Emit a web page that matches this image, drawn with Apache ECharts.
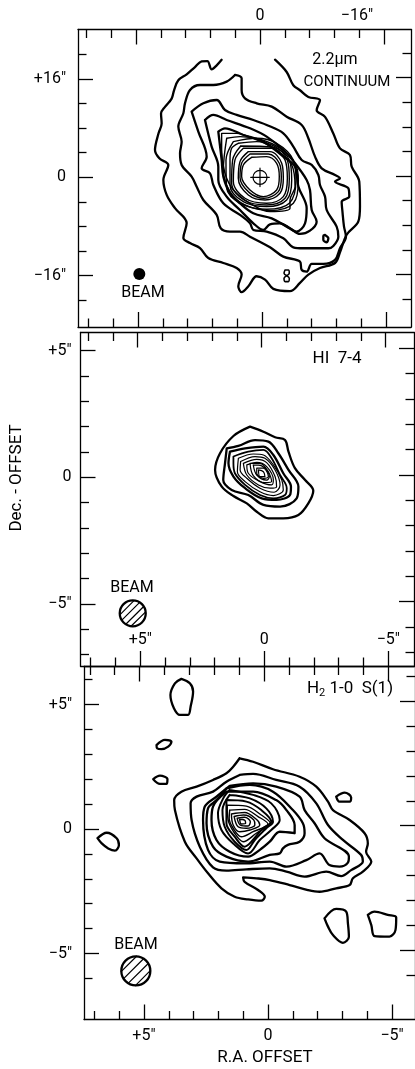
<!DOCTYPE html>
<html><head><meta charset="utf-8">
<style>html,body{margin:0;padding:0;background:#fff}#c{width:415px;height:1069px}</style>
<script src="https://cdn.jsdelivr.net/npm/echarts@6/dist/echarts.min.js"></script>
</head><body><div id="c"></div>
<script>
// ---------- Panel 1: 2.2um continuum contours (RA offset, Dec offset, arcsec)
const c1A=[[4.95,19.1],[5.59,18.2],[6.24,17.55],[6.79,18.9],[7.53,18.85],[8.39,17.93],[9.46,16.74],[10.54,15.77],[11.09,14.15],[11.4,12.8],[12.26,11.45],[12.77,10.37],[12.69,8.75],[13.1,7.13],[13.55,4.43],[12.99,3.08],[11.83,2],[12.47,-0.43],[12.04,-2.86],[10.97,-5.02],[9.46,-7.45],[9.89,-9.88],[9.03,-10.69],[7.74,-11.5],[6.67,-13.12],[4.73,-13.93],[3.01,-14.74],[2.37,-15.82],[2.8,-17.71],[2.37,-18.68],[1.5,-17.71],[0.43,-16.09],[-0.65,-16.63],[-1.72,-18.14],[-3.87,-18.52],[-5.16,-17.17],[-6.24,-15.82],[-7.74,-14.74],[-9.68,-13.93],[-10.32,-12.2],[-11.18,-9.34],[-12.69,-7.18],[-12.9,-4.75],[-12.81,-0.7],[-11.83,1.73],[-11.61,3.62],[-10.32,4.7],[-9.46,7.13],[-8.39,9.83],[-7.31,10.91],[-7.74,12.53],[-6.24,13.07],[-5.16,14.15],[-4.3,14.96],[-3.44,17.12],[-1.94,19.12]];
const c1B=[[3.23,16.64],[2.37,16.1],[2.37,14.2],[1.94,12.85],[0.43,12.03],[-1.51,11.49],[-3.44,9.86],[-5.38,8.51],[-6.24,6.34],[-7.1,3.36],[-7.96,1.46],[-9.68,0.38],[-10.32,-0.16],[-9.68,-0.7],[-11.4,-1.79],[-11.52,-3.14],[-10.54,-3.96],[-10.66,-5.85],[-10.84,-8.02],[-11.09,-9.65],[-10.32,-11.54],[-9.68,-13.44],[-8.17,-14.09],[-6.67,-14.09],[-6.02,-15.34],[-5.38,-15.07],[-5.16,-13.71],[-3.01,-12.9],[-1.29,-11.38],[1.29,-9.65],[2.58,-8.83],[3.87,-8.83],[5.07,-8.29],[5.59,-6.12],[7.31,-3.69],[8.17,-1.52],[8.82,0.11],[10.11,2.01],[10.32,3.9],[10.11,5.8],[10.54,8.24],[9.89,10.41],[9.68,12.03],[9.03,14.2],[7.74,15.01],[6.02,15.01],[4.3,15.56],[3.23,16.64]];
const c1C=[[8.82,10.68],[7.31,12.03],[5.59,12.57],[4.52,10.95],[3.01,10.14],[0.86,9.32],[-0.86,8.51],[-3.01,7.15],[-4.3,4.99],[-5.38,2.82],[-6.67,2.01],[-7.53,0.38],[-7.74,-1.25],[-8.39,-3.14],[-8.6,-5.31],[-9.89,-8.02],[-10.11,-9.65],[-9.46,-11.17],[-8.82,-11.54],[-5.59,-11.54],[-4.3,-11.38],[-3.01,-9.92],[-0.86,-8.83],[0.86,-8.56],[1.29,-7.48],[2.58,-6.12],[4.73,-4.23],[6.02,-1.25],[6.45,0.65],[7.53,1.46],[6.88,3.36],[7.96,7.43],[8.82,10.68]];
const c1D=[[7.1,9.32],[6.02,10.14],[4.3,9.32],[1.29,7.97],[-0.86,6.61],[-3.01,4.44],[-4.52,2.28],[-6.02,-0.43],[-6.45,-2.06],[-6.67,-5.31],[-7.31,-7.21],[-6.45,-8.67],[-5.16,-9.21],[-3.87,-8.29],[-2.58,-7.48],[-1.29,-7.64],[-0.43,-8.56],[0.86,-7.48],[2.58,-5.31],[4.3,-3.14],[5.38,-0.43],[5.38,1.73],[6.24,4.99],[7.1,9.32]];
const c1E=[[5.38,7.43],[4.52,7.97],[2.15,6.88],[-0.43,5.8],[-3.01,3.36],[-4.52,1.73],[-4.95,-1.52],[-6.02,-5.04],[-5.81,-7.48],[-4.73,-8.83],[-3.44,-8.02],[-1.51,-6.67],[0.86,-5.85],[2.58,-4.23],[3.87,-2.6],[4.73,0.11],[4.95,2.82],[5.38,7.43]];
const c1F=[[4.95,7.15],[3.01,7.15],[0.43,6.07],[-2.15,4.44],[-4.09,2.01],[-4.52,-1.52],[-3.87,-3.69],[-3.87,-5.04],[-1.29,-5.58],[1.29,-4.23],[3.44,-2.06],[4.52,0.65],[4.95,4.44],[4.95,7.15]];
const c1G=[[4.3,6.34],[2.58,6.61],[0,6.18],[-2.58,4.72],[-4.52,2.28],[-4.95,-0.43],[-4.3,-4.23],[-1.29,-5.42],[1.94,-4.5],[3.87,-2.33],[4.73,1.19],[4.3,6.34]];
const c1H=[[3.44,5.8],[0.43,6.34],[-2.15,5.53],[-4.3,2.82],[-4.64,-0.43],[-3.78,-4.23],[-0.86,-5.2],[2.37,-4.34],[4.3,-1.79],[4.39,2.82],[3.44,5.8]];
const c1I=[[2.8,5.53],[0.43,5.8],[-1.94,4.99],[-3.78,2.82],[-4.09,-0.43],[-3.44,-3.69],[-0.86,-4.77],[2.15,-3.96],[3.87,-1.25],[3.87,2.82],[3.66,4.72],[2.8,5.53]];
const c1N=[[2.49,5.09],[-1.72,4.88],[-3.53,2.82],[-3.78,-0.33],[-3.23,-3.41],[-0.86,-4.5],[2.06,-3.69],[3.66,-0.98],[3.53,2.82],[2.49,5.09]];
const c1J=[[2.15,4.72],[-1.51,4.72],[-3.23,2.82],[-3.53,-0.16],[-3.01,-3.14],[-0.86,-4.23],[1.94,-3.41],[3.44,-0.7],[3.23,2.82],[2.15,4.72]];
const c1K=[[1.51,4.17],[-1.29,4.17],[-2.8,2.28],[-3.01,-0.16],[-2.58,-2.6],[-0.65,-3.69],[1.51,-2.87],[2.8,-0.16],[2.58,2.55],[1.51,4.17]];
const c1M=[[1.29,3.79],[-1.08,3.79],[-2.49,2.28],[-2.75,-0.05],[-2.37,-2.33],[-0.52,-3.41],[1.38,-2.49],[2.58,-0.05],[2.37,2.28],[1.29,3.79]];
const c1L=[[1.08,3.25],[-0.86,3.36],[-2.15,2.28],[-2.49,0.11],[-2.15,-2.06],[-0.43,-3.14],[1.29,-2.06],[2.37,0.11],[2.15,2.01],[1.08,3.25]];
const c1Zero=[[-8.39,-9.38],[-8.82,-9.92],[-8.6,-10.57],[-8.17,-10.19],[-8.17,-9.54],[-8.39,-9.38]];
const c1Eight=[[-3.23,-15.07],[-3.66,-15.07],[-3.78,-15.61],[-3.1,-16.42],[-3.23,-16.96],[-3.66,-16.96],[-3.78,-16.42],[-3.1,-15.61],[-3.23,-15.07]];
const p1Beam=[[15.57,-15.72]];
const p1Center=[[0,0]];
const p1CrossH=[[1.2,0],[-1.2,0]];
const p1CrossV=[[0,1.5],[0,-1.5]];
// ---------- Panel 2: HI 7-4 contours
const c2A=[[0.47,2],[-0.07,1.8],[-0.54,1.58],[-0.94,1.47],[-1.08,1.01],[-1.34,0.36],[-1.75,-0.11],[-2.08,-0.53],[-1.88,-1.03],[-1.48,-1.49],[-0.87,-1.62],[-0.27,-1.62],[0.2,-1.36],[0.6,-1.03],[1.14,-0.74],[1.61,-0.37],[1.88,0.29],[1.68,0.95],[1.14,1.63],[0.47,2]];
const c2B=[[1.41,1.14],[0.94,1.24],[0.27,1.47],[-0.27,1.41],[-0.67,0.95],[-1.08,0.29],[-1.48,-0.37],[-1.41,-0.83],[-0.74,-1.16],[-0.07,-1.09],[0.54,-0.7],[1.21,-0.5],[1.55,-0.11],[1.48,0.55],[1.41,1.14]];
const c2C=[[1.28,1.01],[0.67,1.14],[-0.07,1.21],[-0.47,0.88],[-0.87,0.16],[-1.18,-0.37],[-1.14,-0.7],[-0.6,-0.89],[0,-0.83],[0.67,-0.43],[1.14,0.03],[1.34,0.55],[1.28,1.01]];
const c2D=[[1.14,0.82],[0.54,1.01],[-0.07,1.08],[-0.4,0.75],[-0.74,0.09],[-1.01,-0.43],[-0.94,-0.7],[-0.47,-0.83],[0.07,-0.7],[0.67,-0.3],[1.08,0.16],[1.14,0.55],[1.14,0.82]];
const c2E=[[0.94,0.75],[0.34,0.92],[-0.07,0.88],[-0.47,0.49],[-0.81,-0.11],[-0.87,-0.5],[-0.47,-0.72],[0.07,-0.57],[0.67,-0.17],[0.98,0.22],[0.94,0.75]];
const c2F=[[0.85,0.62],[0.27,0.82],[-0.13,0.75],[-0.54,0.29],[-0.74,-0.3],[-0.5,-0.59],[0.07,-0.43],[0.6,-0.04],[0.87,0.29],[0.85,0.62]];
const c2G=[[0.74,0.55],[0.2,0.71],[-0.2,0.58],[-0.54,0.03],[-0.6,-0.37],[-0.34,-0.43],[0.13,-0.3],[0.6,0.09],[0.74,0.55]];
const c2H=[[0.6,0.49],[0.2,0.59],[-0.2,0.42],[-0.47,-0.11],[-0.4,-0.3],[0.07,-0.17],[0.54,0.16],[0.6,0.49]];
const c2I=[[0.47,0.55],[0.07,0.55],[-0.27,0.22],[-0.4,-0.17],[-0.13,-0.21],[0.34,0.07],[0.47,0.55]];
const c2J=[[0.34,0.49],[0,0.45],[-0.31,0.03],[-0.2,-0.11],[0.2,0.09],[0.34,0.49]];
const c2K=[[0.2,0.36],[-0.07,0.36],[-0.27,0.03],[-0.07,-0.04],[0.2,0.16],[0.2,0.36]];
const c2L=[[0.13,0.29],[-0.07,0.22],[-0.13,0.03],[0.07,0.03],[0.13,0.29]];
const p2Beam=[[5.2,-5.37]];
const gap=['-','-'];
const p2Hatch=[[5.15,-4.87],[5.71,-5.42],gap,[4.93,-4.95],[5.63,-5.63],gap,[4.77,-5.11],[5.47,-5.79],gap,[4.69,-5.32],[5.26,-5.87]];
// ---------- Panel 3: H2 1-0 S(1) contours
const c3A=[[0.98,2.84],[0.44,2.7],[-0.36,2.4],[-1.43,2.1],[-2.1,1.7],[-2.57,1.1],[-2.77,0.76],[-3.44,0.36],[-4.04,-0.17],[-4.17,-0.58],[-4.1,-0.91],[-4.31,-1.31],[-3.97,-1.71],[-3.57,-1.98],[-3.44,-2.25],[-2.9,-2.38],[-2.23,-2.52],[-1.76,-2.45],[-1.03,-2.25],[-0.23,-2.05],[0.31,-1.98],[0.84,-1.94],[0.78,-2.12],[0.24,-2.45],[-0.03,-2.72],[0.11,-2.88],[0.64,-2.83],[1.18,-2.72],[1.71,-2.38],[2.25,-1.78],[2.71,-1.18],[3.18,-0.51],[3.58,0.76],[3.61,1.16],[3.32,1.5],[2.71,1.7],[2.05,1.97],[1.51,2.24],[1.24,2.5],[0.98,2.84]];
const c3B=[[0.98,2.17],[0.44,2.21],[-0.49,1.97],[-1.43,1.7],[-2.1,1.03],[-2.57,0.16],[-3.17,-0.44],[-3.9,-1.04],[-3.97,-1.31],[-3.5,-1.65],[-3.1,-1.89],[-2.5,-1.71],[-1.63,-1.91],[-0.9,-1.71],[-0.23,-1.58],[0.71,-1.62],[1.51,-1.67],[2.05,-1.54],[2.58,-0.71],[2.91,0.36],[2.95,1.03],[2.71,1.3],[2.05,1.5],[1.51,1.9],[0.98,2.17]];
const c3C=[[1.38,1.73],[0.44,1.83],[-0.49,1.7],[-1.43,1.3],[-1.63,0.76],[-2.03,0.23],[-2.43,-0.37],[-3.41,-1.11],[-3.37,-1.35],[-3.03,-1.51],[-2.63,-1.45],[-2.23,-0.98],[-1.7,-1.25],[-0.9,-1.51],[-0.23,-1.31],[0.78,-1.38],[1.78,-1.31],[2.25,-0.84],[2.45,0.36],[2.38,0.9],[1.91,1.3],[1.38,1.73]];
const c3D=[[1.51,1.63],[0.57,1.77],[-0.36,1.5],[-1.16,0.76],[-1.56,0.23],[-1.63,-0.17],[-1.43,-0.51],[-0.96,-0.64],[-0.76,-0.78],[-0.63,-0.98],[-0.23,-1.04],[0.64,-1.31],[1.51,-1.11],[2.05,-0.71],[2.31,0.23],[2.25,0.83],[1.91,1.16],[1.51,1.63]];
const c3E=[[1.51,1.5],[0.44,1.5],[-0.49,1.16],[-0.9,0.76],[-1.23,0.16],[-1.23,-0.17],[-0.63,-0.11],[-0.23,-0.51],[0.17,-0.84],[0.64,-1.11],[1.38,-0.91],[1.91,-0.44],[2.11,0.36],[2.05,0.9],[1.51,1.5]];
const c3F=[[1.38,1.57],[0.44,1.37],[-0.29,1.03],[-0.63,0.36],[-0.29,-0.04],[0.17,-0.44],[0.64,-0.98],[1.24,-0.58],[1.71,-0.04],[1.85,0.63],[1.64,1.23],[1.38,1.57]];
const c3G=[[1.38,1.37],[0.57,1.23],[-0.09,0.83],[-0.36,0.29],[-0.09,0.03],[0.37,-0.44],[0.71,-0.84],[1.18,-0.51],[1.58,0.09],[1.67,0.76],[1.38,1.37]];
const c3H=[[1.51,1.16],[0.71,1.1],[0.11,0.76],[-0.29,0.29],[0.04,0.03],[0.51,-0.51],[0.78,-0.71],[1.18,-0.31],[1.51,0.23],[1.51,1.16]];
const c3I=[[1.48,0.96],[0.71,0.92],[0.11,0.56],[-0.25,0.23],[0.31,-0.17],[0.84,-0.51],[1.18,-0.17],[1.44,0.36],[1.48,0.96]];
const c3J=[[1.38,0.76],[0.78,0.79],[0.24,0.5],[-0.16,0.2],[0.44,-0.11],[0.91,-0.31],[1.24,0.03],[1.4,0.43],[1.38,0.76]];
const c3K=[[1.31,0.6],[0.78,0.66],[0.31,0.39],[0.17,0.16],[0.57,-0.04],[0.98,-0.11],[1.24,0.16],[1.31,0.6]];
const c3L=[[1.2,0.5],[0.82,0.56],[0.41,0.36],[0.37,0.16],[0.71,0.03],[1.04,0.09],[1.2,0.5]];
const c3M=[[1.08,0.43],[0.78,0.47],[0.55,0.29],[0.64,0.12],[0.95,0.16],[1.08,0.43]];
const c3N=[[0.98,0.39],[0.78,0.36],[0.74,0.23],[0.91,0.2],[0.98,0.39]];
const i3Big=[[3.32,6.03],[2.98,5.85],[2.85,5.52],[2.95,4.91],[3.05,4.58],[3.38,4.58],[3.62,4.85],[3.76,5.38],[3.58,5.85],[3.32,6.03]];
const i3Small1=[[4.32,3.37],[3.98,3.58],[3.72,3.51],[3.85,3.31],[4.12,3.21],[4.29,3.24],[4.32,3.37]];
const i3Small2=[[4.45,2],[4.18,2.14],[3.88,2],[3.92,1.81],[4.18,1.81],[4.45,2]];
const i3Right=[[-2.9,1.3],[-3.24,1.46],[-3.5,1.27],[-3.44,1.1],[-3.03,1.1],[-2.9,1.3]];
const i3Left=[[6.69,-0.37],[6.32,-0.15],[5.92,-0.37],[5.83,-0.64],[5.99,-0.87],[6.26,-0.78],[6.52,-0.58],[6.69,-0.37]];
const i3BotA=[[-2.43,-3.59],[-2.9,-3.21],[-3.3,-3.32],[-3.37,-3.79],[-3.41,-4.33],[-3.17,-4.57],[-2.77,-4.26],[-2.57,-3.92],[-2.43,-3.59]];
const i3BotB=[[-4.17,-3.45],[-4.44,-3.32],[-4.97,-3.45],[-5.31,-3.55],[-5.28,-4.06],[-5.04,-4.32],[-4.44,-4.3],[-4.31,-3.86],[-4.17,-3.45]];
const p3Beam=[[5.15,-5.7]];
const p3Hatch=[[5.12,-5.11],[5.74,-5.73],gap,[4.84,-5.21],[5.64,-6.01],gap,[4.65,-5.4],[5.46,-6.2],gap,[4.56,-5.68],[5.17,-6.29]];
// ---------- Tick values and labels
const p1XMajor=[16,0,-16], p1XMinor=[22.4,19.2,12.8,9.6,6.4,3.2,-3.2,-6.4,-9.6,-12.8];
const p1YMajor=[16,0,-16], p1YMinor=[20,12,8,4,-4,-8,-12,-20];
const p23XMajor=[5,0,-5], p23XMinor=[7,6,4,3,2,1,-1,-2,-3,-4];
const p2YMajor=[5,0,-5], p2YMinor=[4,3,2,1,-1,-2,-3,-4,-6,-7];
const p3YMajor=[5,0,-5], p3YMinor=[6,4,3,2,1,-1,-2,-3,-4,-6];
const p1TopLabelAt=[0,-12.5], p1TopLabels=['0','\u221216\u2033'];
const p1LeftLabelAt=[16,0,-16], p1LeftLabels=['+16\u2033','0','\u221216\u2033'];
const arcLabelAt=[5,0,-5], arcLabels=['+5\u2033','0','\u22125\u2033'];

const FONT='Roboto';
const BLACK='#000';

const panels=[
 {left:78,right:411,top:29.5,bottom:327,xT:[260,7.75],xB:[262,7.75],yL:[177.3,6.15],yR:[176,6.15],
  xMaj:p1XMajor,xMin:p1XMinor,yMaj:p1YMajor,yMin:p1YMinor},
 {left:80.5,right:414,top:332.5,bottom:666,xT:[261.7,24.8],xB:[264.3,24.8],yL:[477.3,25.33],yR:[475,25.33],
  xMaj:p23XMajor,xMin:p23XMinor,yMaj:p2YMajor,yMin:p2YMinor},
 {left:84,right:415.5,top:666.5,bottom:1019.5,xT:[264.3,24.93],xB:[268.3,24.85],yL:[829,24.9],yR:[825.7,24.9],
  xMaj:p23XMajor,xMin:p23XMinor,yMaj:p3YMajor,yMin:p3YMinor}
];
const hide={show:false};
function ax(o){
  const a={type:'value',gridIndex:o.g,position:o.pos,min:o.min,max:o.max,inverse:!!o.inv,silent:true,
    splitLine:hide,
    axisLine:{show:!!o.line,onZero:false,lineStyle:{color:BLACK,width:1.3}},
    axisTick:{show:true,inside:true,length:o.len,customValues:o.ticks,lineStyle:{color:BLACK,width:1.3}},
    axisLabel:hide};
  if(o.at){a.axisLabel={show:true,customValues:o.at,formatter:v=>o.txt[o.at.indexOf(v)],inside:!!o.inside,margin:o.margin,color:BLACK,fontFamily:FONT,fontSize:16};}
  return a;
}
const grid=[],xAxis=[],yAxis=[];
const xLabels=[{T:{at:p1TopLabelAt,txt:p1TopLabels,margin:6}},{B:{at:arcLabelAt,txt:arcLabels,margin:18,inside:true}},{B:{at:arcLabelAt,txt:arcLabels,margin:8}}];
const yLabels=[{at:p1LeftLabelAt,txt:p1LeftLabels,margin:12},{at:arcLabelAt,txt:arcLabels,margin:9},{at:arcLabelAt,txt:arcLabels,margin:12}];
panels.forEach((p,g)=>{
  grid.push({left:p.left,top:p.top,width:p.right-p.left,height:p.bottom-p.top,containLabel:false});
  const xr=z=>({min:(z[0]-p.right)/z[1],max:(z[0]-p.left)/z[1],inv:true});
  const yr=z=>({min:(z[0]-p.bottom)/z[1],max:(z[0]-p.top)/z[1]});
  xAxis.push(ax({g,pos:'top',...xr(p.xT),line:true,len:15,ticks:p.xMaj,...(xLabels[g].T||{})}));
  xAxis.push(ax({g,pos:'top',...xr(p.xT),len:8.5,ticks:p.xMin}));
  xAxis.push(ax({g,pos:'bottom',...xr(p.xB),line:true,len:15,ticks:p.xMaj,...(xLabels[g].B||{})}));
  xAxis.push(ax({g,pos:'bottom',...xr(p.xB),len:8.5,ticks:p.xMin}));
  yAxis.push(ax({g,pos:'left',...yr(p.yL),line:true,len:15,ticks:p.yMaj,...yLabels[g]}));
  yAxis.push(ax({g,pos:'left',...yr(p.yL),len:8.5,ticks:p.yMin}));
  yAxis.push(ax({g,pos:'right',...yr(p.yR),line:true,len:15,ticks:p.yMaj}));
  yAxis.push(ax({g,pos:'right',...yr(p.yR),len:8.5,ticks:p.yMin}));
});
function line(g,data,width,smooth){
  return {type:'line',xAxisIndex:g*4,yAxisIndex:g*4,data,showSymbol:false,symbol:'none',silent:true,animation:false,connectNulls:false,
    smooth:smooth===undefined?0.35:smooth,lineStyle:{color:BLACK,width,cap:'round',join:'round'}};
}
function beam(g,data,size,hollow){
  return {type:'scatter',xAxisIndex:g*4,yAxisIndex:g*4,data,symbol:'circle',symbolSize:size,silent:true,animation:false,
    itemStyle:hollow?{color:'#fff',opacity:1,borderColor:BLACK,borderWidth:2.3}:{color:BLACK,opacity:1}};
}
const T=2.3,M=1.6,S=1.4;
const series=[
  ...[c1A,c1B,c1C,c1D,c1E].map(d=>line(0,d,T)),
  ...[c1F,c1G,c1H,c1I,c1N,c1J,c1K,c1M,c1L].map(d=>line(0,d,S)),
  line(0,c1Zero,T),line(0,c1Eight,1.6),
  {type:'scatter',xAxisIndex:0,yAxisIndex:0,data:p1Center,symbol:'circle',symbolSize:14,silent:true,animation:false,itemStyle:{color:'rgba(0,0,0,0)',opacity:1,borderColor:BLACK,borderWidth:1.2}},
  line(0,p1CrossH,1.2,false),line(0,p1CrossV,1.2,false),
  beam(0,p1Beam,12,false),
  ...[c2A,c2B,c2C].map(d=>line(1,d,T)),
  line(1,c2D,1.8),
  ...[c2E,c2F,c2G,c2H,c2I,c2J,c2K,c2L].map(d=>line(1,d,1.2)),
  beam(1,p2Beam,26,true),line(1,p2Hatch,1.2,false),
  ...[c3A,c3B,c3C,c3D,c3E].map(d=>line(2,d,T)),
  ...[c3F,c3G,c3H].map(d=>line(2,d,2)),
  ...[c3I,c3J,c3K,c3L,c3M,c3N].map(d=>line(2,d,S)),
  ...[i3Big,i3Small1,i3Small2,i3Right,i3Left,i3BotA,i3BotB].map(d=>line(2,d,T)),
  beam(2,p3Beam,29,true),line(2,p3Hatch,1.2,false)
];
function txt(x,y,text,size,extra){
  return {type:'text',x,y,silent:true,style:Object.assign({text,fill:BLACK,font:size+'px '+FONT,textAlign:'center',textVerticalAlign:'middle'},extra||{})};
}
const graphic=[
  txt(335,60,'2.2\u00b5m',16),txt(347,82,'CONTINUUM',15),txt(143,293,'BEAM',16),
  txt(132,588,'BEAM',16),txt(337,359,'HI  7-4',17),
  txt(136,945,'BEAM',16),
  txt(350,689,'H{s|2} 1-0  S(1)',17,{rich:{s:{font:'11px '+FONT,fill:BLACK,padding:[8,0,0,0]}}}),
  txt(265,1058,'R.A. OFFSET',17),
  Object.assign(txt(17,478,'Dec. - OFFSET',17),{rotation:Math.PI/2})
];
const chart=echarts.init(document.getElementById('c'),null,{renderer:'canvas',width:415,height:1069});
chart.setOption({animation:false,backgroundColor:'#fff',grid,xAxis,yAxis,series,graphic});
</script></body></html>
